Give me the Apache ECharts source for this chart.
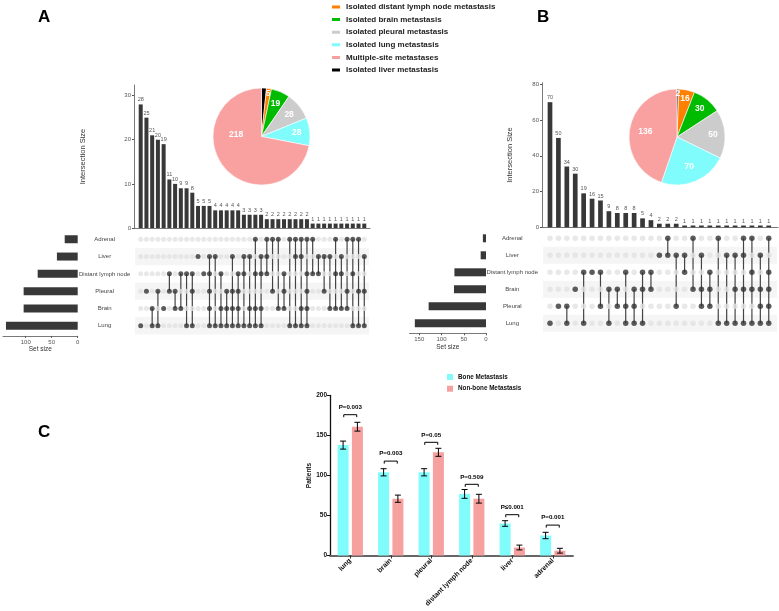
<!DOCTYPE html>
<html><head><meta charset="utf-8">
<script src="https://cdn.jsdelivr.net/npm/echarts@6/dist/echarts.min.js"></script>
<style>html,body{margin:0;padding:0;background:#fff}#c{width:779px;height:611px}</style>
</head><body><div id="c"></div>
<script>
const FONT = 'Liberation Sans, Arial, Helvetica, sans-serif';

// ---------- Panel A (UpSet) ----------
const setNamesA = ['Adrenal', 'Liver', 'Distant lymph node', 'Pleural', 'Brain', 'Lung'];
const setSizesA = [25, 40, 77, 104, 104, 138];
const interSizesA = [28, 25, 21, 20, 19, 11, 10, 9, 9, 8, 5, 5, 5, 4, 4, 4, 4, 4, 3, 3, 3, 3, 2, 2, 2, 2, 2, 2, 2, 2, 1, 1, 1, 1, 1, 1, 1, 1, 1, 1];
// membership: indexes into setNamesA
const interMembersA = [
  [5], [3], [4, 5], [3, 5], [4], [2, 3], [3, 4], [2, 4], [2, 5], [2, 3, 5],
  [1], [2], [1, 2, 3, 4, 5], [1, 5], [2, 4, 5], [3, 4, 5], [1, 3, 4, 5], [2, 3, 4, 5], [1, 2, 5], [1, 4, 5],
  [0, 2, 4, 5], [1, 2, 4, 5], [0, 1, 2], [0, 3], [0, 4], [2, 3, 4], [0, 5], [0, 1, 5], [0, 1, 4, 5], [0, 2, 3, 4, 5],
  [0, 2], [1, 2], [1, 3], [1, 4], [0, 2, 4], [1, 2, 4], [0, 3, 4], [0, 2, 5], [0, 3, 5], [1, 3, 5]
];
const yTicksA = [0, 10, 20, 30];
const setTicksA = [0, 50, 100];

// ---------- Panel B (UpSet) ----------
const setNamesB = ['Adrenal', 'Liver', 'Distant lymph node', 'Brain', 'Pleural', 'Lung'];
const setSizesB = [7, 12, 71, 72, 129, 160];
const interSizesB = [70, 50, 34, 30, 19, 16, 15, 9, 8, 8, 8, 5, 4, 2, 2, 2, 1, 1, 1, 1, 1, 1, 1, 1, 1, 1, 1];
const interMembersB = [
  [5], [4], [4, 5], [3], [2, 5], [2], [2, 4], [3, 5], [3, 4], [2, 4, 5],
  [3, 4, 5], [2, 3, 5], [2, 3], [1], [0, 1], [1, 4], [1, 2], [0, 3], [1, 3, 4], [2, 3, 4],
  [0, 5], [1, 5], [1, 3, 5], [0, 1, 3, 5], [0, 2, 3, 5], [1, 3, 4, 5], [0, 2, 3, 4, 5]
];
const yTicksB = [0, 20, 40, 60, 80];
const setTicksB = [0, 50, 100, 150];

// ---------- Pies ----------
const pieNames = ['Isolated liver metastasis', 'Isolated distant lymph node metastasis', 'Isolated brain metastasis',
  'Isolated pleural metastasis', 'Isolated lung metastasis', 'Multiple-site metastases'];
const pieColors = ['#000000', '#ff8000', '#00bb00', '#cccccc', '#80fcfc', '#f9a0a0'];
const pieValuesA = [5, 5, 19, 28, 28, 218];
const pieValuesB = [2, 16, 30, 50, 70, 136];
const legendOrder = [1, 2, 3, 4, 5, 0];

// ---------- Panel C ----------
const sitesC = ['lung', 'brain', 'pleural', 'distant lymph node', 'liver', 'adrenal'];
const boneC = [138, 104, 104, 77, 40, 25];
const boneErrC = [5, 4.5, 4.5, 5.5, 3.5, 4];
const nonBoneC = [161, 71, 129, 71, 10, 6];
const nonBoneErrC = [5.5, 4.5, 5, 5.5, 3, 3];
const pTextC = ['P=0.003', 'P=0.003', 'P=0.05', 'P=0.509', 'P\u22640.001', 'P=0.001'];
const pBracketC = [176, 118, 141.5, 89, 51, 38];
const yTicksC = [0, 50, 100, 150, 200];

// ---------- helpers ----------
function upsetBars(v, bw, xi) {
  return {
    type: 'custom', xAxisIndex: xi, yAxisIndex: xi, silent: true, clip: false,
    data: v.map((d, i) => [i, d]),
    renderItem: (params, api) => {
      const i = api.value(0), val = api.value(1);
      const top = api.coord([i, val]), base = api.coord([i, 0]);
      return { type: 'group', children: [
        { type: 'rect', shape: { x: top[0] - bw / 2, y: top[1], width: bw, height: base[1] - top[1] }, style: { fill: '#383838' } },
        { type: 'text', x: top[0], y: top[1] - 1.5, style: { text: String(val), fill: '#555', fontSize: 5.5, fontFamily: FONT, align: 'center', verticalAlign: 'bottom' } }
      ] };
    }
  };
}
function matrixSeries(members, nSets, ai, dotSize) {
  const stripes = {
    type: 'custom', xAxisIndex: ai, yAxisIndex: ai, silent: true, z: 1, clip: false,
    data: [1, 3, 5].map(r => [0, r]),
    renderItem: (params, api) => {
      const cs = params.coordSys;
      const p = api.coord([0, api.value(1)]);
      const h = api.size([0, 1])[1];
      return { type: 'rect', shape: { x: cs.x + 1, y: p[1] - h / 2, width: cs.width - 2, height: h }, style: { fill: '#f5f5f5' } };
    }
  };
  const inactive = [], active = [], spans = [];
  members.forEach((m, c) => {
    for (let r = 0; r < nSets; r++) (m.includes(r) ? active : inactive).push([c, r]);
    if (m.length > 1) spans.push([c, Math.min(...m), Math.max(...m)]);
  });
  const lines = {
    type: 'custom', xAxisIndex: ai, yAxisIndex: ai, silent: true, z: 2, clip: false,
    data: spans,
    renderItem: (params, api) => {
      const a = api.coord([api.value(0), api.value(1)]), b = api.coord([api.value(0), api.value(2)]);
      return { type: 'line', shape: { x1: a[0], y1: a[1], x2: b[0], y2: b[1] }, style: { stroke: '#444', lineWidth: 1.2 } };
    }
  };
  const dotsOff = { type: 'scatter', xAxisIndex: ai, yAxisIndex: ai, silent: true, z: 3, symbolSize: dotSize, itemStyle: { color: '#e2e2e2' }, data: inactive };
  const dotsOn = { type: 'scatter', xAxisIndex: ai, yAxisIndex: ai, silent: true, z: 4, symbolSize: dotSize, itemStyle: { color: '#333' }, data: active };
  return [stripes, lines, dotsOff, dotsOn];
}
function pieSeries(vals, center, r) {
  return { type: 'pie', center: center, radius: [0, r], startAngle: 90, clockwise: true, silent: true, z: 5,
    label: { show: false }, labelLine: { show: false },
    itemStyle: { borderColor: '#fff', borderWidth: 0.6 },
    data: pieNames.map((n, i) => ({ name: n, value: vals[i], itemStyle: { color: pieColors[i] } })) };
}
// transparent copy of a pie whose larger radius moves the inside labels outward
function pieLabels(vals, center, r, showIdx, lift) {
  return { type: 'pie', center: center, radius: [0, r], startAngle: 90, clockwise: true, silent: true, z: 6,
    avoidLabelOverlap: false, labelLine: { show: false },
    itemStyle: { color: 'rgba(0,0,0,0)', borderWidth: 0 },
    label: { position: 'inside', formatter: lift ? '{c}\n{s|}' : '{c}', rich: { s: { height: lift || 0 } },
      color: '#fff', fontSize: 8.5, fontWeight: 'bold', fontFamily: FONT },
    data: vals.map((v, i) => ({ name: 'lbl' + i, value: v, label: { show: showIdx.includes(i) } })) };
}
function errSeries(vals, errs, offset) {
  return { type: 'custom', xAxisIndex: 6, yAxisIndex: 6, silent: true, z: 5, clip: false,
    data: vals.map((v, i) => [i, v, errs[i]]),
    renderItem: (params, api) => {
      const i = api.value(0), v = api.value(1), e = api.value(2);
      const p1 = api.coord([i, v + e]), p2 = api.coord([i, v - e]);
      const x = p1[0] + offset, cap = 3;
      const st = { stroke: '#000', lineWidth: 1 };
      return { type: 'group', children: [
        { type: 'line', shape: { x1: x, y1: p1[1], x2: x, y2: p2[1] }, style: st },
        { type: 'line', shape: { x1: x - cap, y1: p1[1], x2: x + cap, y2: p1[1] }, style: st },
        { type: 'line', shape: { x1: x - cap, y1: p2[1], x2: x + cap, y2: p2[1] }, style: st }
      ] };
    } };
}

const axisGrey = { lineStyle: { color: '#555', width: 0.8 } };
const smallLbl = { fontSize: 6, color: '#555', fontFamily: FONT, margin: 3 };
const cA = [261.5, 136.5], cB = [677, 137];

const option = {
  animation: false,
  textStyle: { fontFamily: FONT },
  graphic: [
    { type: 'text', left: 38, top: 9, style: { text: 'A', font: 'bold 17px ' + FONT, fill: '#000' } },
    { type: 'text', left: 537, top: 9, style: { text: 'B', font: 'bold 17px ' + FONT, fill: '#000' } },
    { type: 'text', left: 38, top: 424, style: { text: 'C', font: 'bold 17px ' + FONT, fill: '#000' } }
  ],
  legend: [
    { orient: 'vertical', left: 330, top: 3, padding: 0, itemWidth: 10, itemHeight: 5, itemGap: 4.6, icon: 'rect', selectedMode: false,
      textStyle: { fontSize: 8, fontWeight: 'bold', color: '#222', fontFamily: FONT, lineHeight: 8 },
      data: legendOrder.map(i => ({ name: pieNames[i], itemStyle: { color: pieColors[i] } })) },
    { orient: 'vertical', left: 447, top: 373, padding: 0, itemWidth: 6, itemHeight: 6, itemGap: 3.7, icon: 'rect', selectedMode: false,
      textStyle: { fontSize: 6.3, fontWeight: 'bold', color: '#111', fontFamily: FONT, lineHeight: 8 },
      data: ['Bone Metastasis', 'Non-bone Metastasis'] }
  ],
  grid: [
    { left: 134, top: 85, width: 236, height: 143 },
    { left: 134, top: 230.6, width: 236, height: 103.8 },
    { left: 3, top: 230.6, width: 74.7, height: 103.8 },
    { left: 542, top: 82.7, width: 236, height: 144.6 },
    { left: 542, top: 229.8, width: 236, height: 102 },
    { left: 409.5, top: 229.8, width: 76.5, height: 102 },
    { left: 330, top: 395.5, width: 243, height: 160 }
  ],
  xAxis: [
    { gridIndex: 0, type: 'value', min: -1.17, max: 40, axisLine: { show: true, lineStyle: { color: '#555', width: 0.8 } }, axisTick: { show: false }, axisLabel: { show: false }, splitLine: { show: false } },
    { gridIndex: 1, type: 'value', min: -1.17, max: 40, show: false },
    { gridIndex: 2, type: 'value', inverse: true, min: 0, max: 143.7, offset: 1.5,
      axisLine: { show: true, ...axisGrey }, axisTick: { show: true, length: 2, customValues: setTicksA, lineStyle: { color: '#555' } },
      axisLabel: { ...smallLbl, customValues: setTicksA }, splitLine: { show: false },
      name: 'Set size', nameLocation: 'middle', nameGap: 10, nameTextStyle: { fontSize: 6.5, color: '#333', fontFamily: FONT } },
    { gridIndex: 3, type: 'value', min: -0.95, max: 27.1, axisLine: { show: true, lineStyle: { color: '#555', width: 0.8 } }, axisTick: { show: false }, axisLabel: { show: false }, splitLine: { show: false } },
    { gridIndex: 4, type: 'value', min: -0.95, max: 27.1, show: false },
    { gridIndex: 5, type: 'value', inverse: true, min: 0, max: 172, offset: 1.5,
      axisLine: { show: true, ...axisGrey }, axisTick: { show: true, length: 2, customValues: setTicksB, lineStyle: { color: '#555' } },
      axisLabel: { ...smallLbl, customValues: setTicksB }, splitLine: { show: false },
      name: 'Set size', nameLocation: 'middle', nameGap: 10, nameTextStyle: { fontSize: 6.5, color: '#333', fontFamily: FONT } },
    { gridIndex: 6, type: 'category', data: sitesC,
      axisLine: { lineStyle: { color: '#666', width: 1.8 } },
      axisTick: { show: true, alignWithLabel: true, length: 3, lineStyle: { color: '#333', width: 1 } },
      axisLabel: { rotate: 45, interval: 0, fontSize: 7, fontWeight: 'bold', color: '#111', margin: 4, fontFamily: FONT } }
  ],
  yAxis: [
    { gridIndex: 0, type: 'value', min: 0, max: 32.4, axisLine: { show: true, onZero: false, ...axisGrey },
      axisTick: { show: true, length: 2, customValues: yTicksA, lineStyle: { color: '#555' } },
      axisLabel: { ...smallLbl, customValues: yTicksA }, splitLine: { show: false },
      name: 'Intersection Size', nameLocation: 'middle', nameRotate: 90, nameGap: 47,
      nameTextStyle: { fontSize: 7.5, color: '#333', fontFamily: FONT } },
    { gridIndex: 1, type: 'category', data: setNamesA, inverse: true, show: false },
    { gridIndex: 2, type: 'category', data: setNamesA, inverse: true, position: 'right',
      axisLine: { show: false }, axisTick: { show: false },
      axisLabel: { align: 'center', margin: 27, fontSize: 6, color: '#444', fontFamily: FONT } },
    { gridIndex: 3, type: 'value', min: 0, max: 80.9, axisLine: { show: true, onZero: false, ...axisGrey },
      axisTick: { show: true, length: 2, customValues: yTicksB, lineStyle: { color: '#555' } },
      axisLabel: { ...smallLbl, customValues: yTicksB }, splitLine: { show: false },
      name: 'Intersection Size', nameLocation: 'middle', nameRotate: 90, nameGap: 28,
      nameTextStyle: { fontSize: 7.5, color: '#333', fontFamily: FONT } },
    { gridIndex: 4, type: 'category', data: setNamesB, inverse: true, show: false },
    { gridIndex: 5, type: 'category', data: setNamesB, inverse: true, position: 'right',
      axisLine: { show: false }, axisTick: { show: false },
      axisLabel: { align: 'center', margin: 26.3, fontSize: 6, color: '#444', fontFamily: FONT } },
    { gridIndex: 6, type: 'value', min: 0, max: 200, interval: 50,
      axisLine: { show: true, lineStyle: { color: '#111', width: 1.3 } },
      axisTick: { show: true, length: 3, lineStyle: { color: '#111' } },
      axisLabel: { fontSize: 6.5, fontWeight: 'bold', color: '#111', margin: 3, fontFamily: FONT },
      splitLine: { show: false },
      name: 'Patients', nameLocation: 'middle', nameRotate: 90, nameGap: 13.5,
      nameTextStyle: { fontSize: 6.5, fontWeight: 'bold', color: '#111', fontFamily: FONT } }
  ],
  series: [
    upsetBars(interSizesA, 4, 0),
    ...matrixSeries(interMembersA, setNamesA.length, 1, 5),
    { type: 'bar', xAxisIndex: 2, yAxisIndex: 2, data: setSizesA, barWidth: 8, itemStyle: { color: '#383838' }, silent: true },
    upsetBars(interSizesB, 4.7, 3),
    ...matrixSeries(interMembersB, setNamesB.length, 4, 5.5),
    { type: 'bar', xAxisIndex: 5, yAxisIndex: 5, data: setSizesB, barWidth: 8, itemStyle: { color: '#383838' }, silent: true },
    pieSeries(pieValuesA, cA, 48.5),
    pieSeries(pieValuesB, cB, 48),
    pieLabels(pieValuesA, cA, 65, [2, 3, 4]),
    pieLabels(pieValuesA, cA, 60, [5], 45),
    pieLabels(pieValuesA, cA, 80, [0, 1]),
    pieLabels(pieValuesB, cB, 72, [1]),
    pieLabels(pieValuesB, cB, 66, [2, 3]),
    pieLabels(pieValuesB, cB, 58, [4, 5]),
    pieLabels(pieValuesB, cB, 80, [0]),
    { name: 'Bone Metastasis', type: 'bar', xAxisIndex: 6, yAxisIndex: 6, data: boneC, barWidth: 11, barGap: '30%', itemStyle: { color: '#80fcfc' }, silent: true },
    { name: 'Non-bone Metastasis', type: 'bar', xAxisIndex: 6, yAxisIndex: 6, data: nonBoneC, barWidth: 11, barGap: '30%', itemStyle: { color: '#f7a0a0' }, silent: true },
    errSeries(boneC, boneErrC, -7.15),
    errSeries(nonBoneC, nonBoneErrC, 7.15),
    { type: 'custom', xAxisIndex: 6, yAxisIndex: 6, silent: true, z: 5, clip: false,
      data: pBracketC.map((v, i) => [i, v]),
      renderItem: (params, api) => {
        const p = api.coord([api.value(0), api.value(1)]);
        const w = 6.5, h = 2.5;
        return { type: 'group', children: [
          { type: 'polyline', shape: { points: [[p[0] - w, p[1] + h], [p[0] - w, p[1]], [p[0] + w, p[1]], [p[0] + w, p[1] + h]] }, style: { stroke: '#000', fill: null, lineWidth: 1 } },
          { type: 'text', x: p[0], y: p[1] - 4.5, style: { text: pTextC[params.dataIndex], fontSize: 6.2, fontWeight: 'bold', fontFamily: FONT, fill: '#000', align: 'center', verticalAlign: 'bottom' } }
        ] };
      } }
  ]
};
const chart = echarts.init(document.getElementById('c'), null, { renderer: 'canvas' });
chart.setOption(option);
</script></body></html>
